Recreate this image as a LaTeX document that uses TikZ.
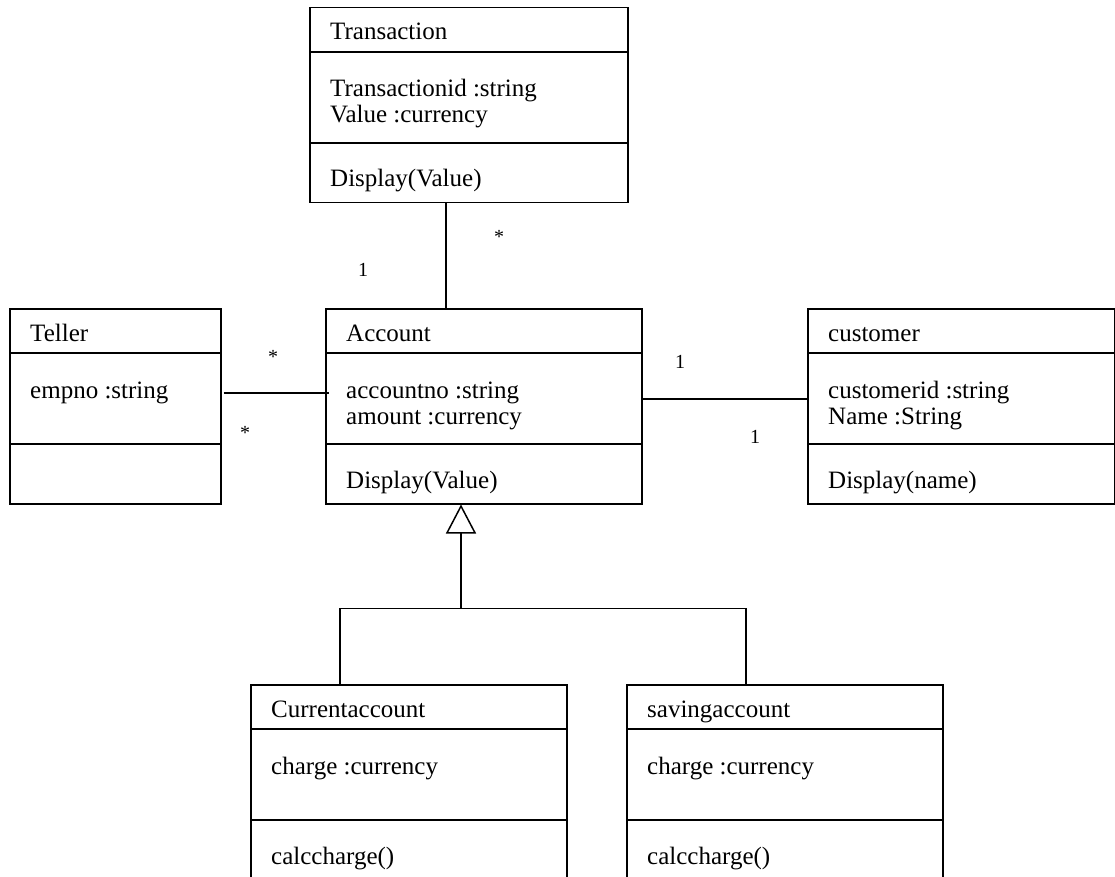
\documentclass[tikz,border=0pt]{standalone}
\usepackage{fontspec}
\setmainfont{Liberation Serif}
\usetikzlibrary{calc, positioning}
\usetikzlibrary{arrows.meta}

\tikzset{
  classbox/.style={draw, line width=1.5pt, inner sep=0pt, minimum height=195pt, anchor=north west},
  classtext/.style={anchor=base west, inner sep=0pt, font=\fontsize{25}{27}\selectfont},
  mult/.style={inner sep=0pt, font=\fontsize{20}{22}\selectfont},
  assoc/.style={line width=1.5pt},
}

% name, north west corner, width, title, attributes, operation
\newcommand{\umlclass}[6]{
  \node[classbox, minimum width=#3pt] (#1) at #2 {};
  \draw[assoc] ($(#1.north west)+(0,45)$) -- ($(#1.north east)+(0,45)$);
  \draw[assoc] ($(#1.north west)+(0,136)$) -- ($(#1.north east)+(0,136)$);
  \node[classtext] (#1-name) at ($(#1.north west)+(21,33)$) {#4};
  \foreach \txt [count=\i] in {#5} {
    \node[classtext] (#1-attr\i) at ($(#1.north west)+(21,64+26*\i)$) {\txt};
  }
  \node[classtext] (#1-op) at ($(#1.north west)+(21,180)$) {#6};
}

\begin{document}
\begin{tikzpicture}[x=1pt, y=-1pt]
\useasboundingbox (0,0) rectangle (1115,877);

\umlclass{trans}{(309,7)}{318}{Transaction}{Transactionid :string, Value :currency}{Display(Value)}
\umlclass{teller}{(9,308)}{211}{Teller}{empno :string}{}
\umlclass{account}{(325,308)}{316}{Account}{accountno :string, amount :currency}{Display(Value)}
\umlclass{customer}{(807,308)}{307}{customer}{customerid :string, Name :String}{Display(name)}
\umlclass{current}{(250,684)}{316}{Currentaccount}{charge :currency}{calccharge()}
\umlclass{saving}{(626,684)}{316}{savingaccount}{charge :currency}{calccharge()}

% associations
\draw[assoc] ($(trans.south west)+(137,0)$) -- ($(account.north west)+(121,0)$);
\draw[assoc] ($(teller.north east)+(2,85)$) -- ($(account.north west)+(4,85)$);
\draw[assoc] ($(account.north east)+(0,91)$) -- ($(customer.north west)+(0,91)$);

% multiplicities
\node[mult] (m-trans) at (499,237) {*};
\node[mult] (m-acc-top) at (363,270) {1};
\node[mult] (m-acc-left) at (273,357) {*};
\node[mult] (m-teller) at (245,433) {*};
\node[mult] (m-acc-right) at (680,362) {1};
\node[mult] (m-customer) at (755,437) {1};

% generalization
\coordinate (gen) at ($(account.south west)+(136,104)$);
\draw[assoc] ($(current.north west)+(90,0)$) |- (gen) -| ($(saving.north west)+(120,0)$);
\draw[assoc, -{Triangle[open, length=29pt, width=30pt]}] (gen) -- ($(account.south west)+(136,0)$);
\end{tikzpicture}
\end{document}
